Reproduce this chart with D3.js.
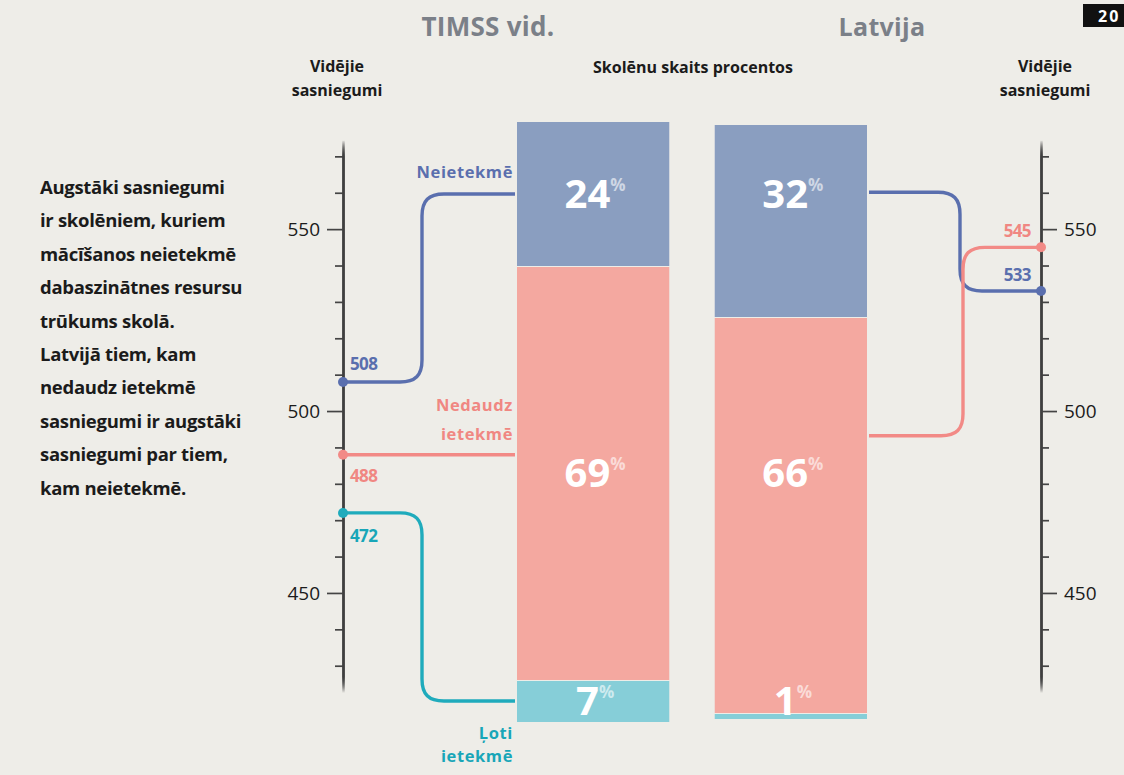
<!DOCTYPE html>
<html><head><meta charset="utf-8">
<script src="https://cdn.jsdelivr.net/npm/d3@7"></script>
<style>
html,body{margin:0;padding:0;background:#eeede8;}
svg{display:block;font-family:'Open Sans','Noto Sans',sans-serif;}
</style></head>
<body>
<svg id="chart" width="1124" height="775"></svg>
<script>
// ---------- data ----------
const categories = ["Neietekmē", "Nedaudz ietekmē", "Ļoti ietekmē"];
const categoryLabelLines = [["Neietekmē"], ["Nedaudz", "ietekmē"], ["Ļoti", "ietekmē"]];
const groups = ["TIMSS vid.", "Latvija"];
const timssShare = [24, 69, 7];
const latviaShare = [32, 66, 1];
const timssScore = [508, 488, 472];
const latviaScore = [533, 545];          // only first two categories shown for Latvija
const majorTicks = [450, 500, 550];
const minorTicks = [430, 440, 460, 470, 480, 490, 510, 520, 530, 540, 560, 570];
const noteLines = ["Augstāki sasniegumi", "ir skolēniem, kuriem", "mācīšanos neietekmē",
  "dabaszinātnes resursu", "trūkums skolā.", "Latvijā tiem, kam", "nedaudz ietekmē",
  "sasniegumi ir augstāki", "sasniegumi par tiem,", "kam neietekmē."];

// ---------- styles ----------
const barColors = ["#8a9ec0", "#f4a8a0", "#86ced8"];
const lineColors = ["#5a6fae", "#f28a86", "#1fabbc"];
const textColors = ["#5a6fae", "#f08782", "#18a6b8"];

const svg = d3.select("#chart");

// scales
const yScore = d3.scaleLinear().domain([422.5, 574.5]).range([693, 140]);
const xBand = d3.scaleBand().domain(groups).range([517, 867]).paddingInner(0.23).paddingOuter(0);
const hPct = d3.scaleLinear().domain([0, 100]).range([0, 600]);
const barTop = {"TIMSS vid.": 122, "Latvija": 125};
const leftAxisX = 343, rightAxisX = 1041;

// axis fade gradient
const defs = svg.append("defs");
const grad = defs.append("linearGradient").attr("id", "axfade").attr("gradientUnits", "userSpaceOnUse")
  .attr("x1", 0).attr("x2", 0).attr("y1", 140).attr("y2", 693);
[[0, 0], [0.03, 1], [0.97, 1], [1, 0]].forEach(([o, a]) =>
  grad.append("stop").attr("offset", o).attr("stop-color", "#3f3f3f").attr("stop-opacity", a));

// ---------- headers ----------
const hdr = svg.append("g").attr("font-weight", 700);
hdr.append("text").attr("x", 488).attr("y", 36).attr("text-anchor", "middle")
  .attr("font-size", 26).attr("fill", "#7b8088").attr("letter-spacing", 0.3).text("TIMSS vid.");
hdr.append("text").attr("x", 882).attr("y", 36).attr("text-anchor", "middle")
  .attr("font-size", 25).attr("fill", "#7b8088").attr("letter-spacing", 0.3).text("Latvija");
[[337], [1045]].forEach(([cx]) => {
  hdr.append("text").attr("x", cx).attr("y", 72).attr("text-anchor", "middle")
    .attr("font-size", 16).attr("fill", "#1b1b1b").text("Vidējie");
  hdr.append("text").attr("x", cx).attr("y", 96).attr("text-anchor", "middle")
    .attr("font-size", 16).attr("fill", "#1b1b1b").text("sasniegumi");
});
hdr.append("text").attr("x", 693).attr("y", 73).attr("text-anchor", "middle")
  .attr("font-size", 16).attr("fill", "#1b1b1b").text("Skolēnu skaits procentos");
// year box at the top-right edge
svg.append("rect").attr("x", 1083).attr("y", 4).attr("width", 45).attr("height", 23).attr("fill", "#111");
svg.append("text").attr("x", 1098).attr("y", 22).attr("font-size", 16).attr("font-weight", 700)
  .attr("fill", "#fff").attr("letter-spacing", 2).text("20");

// ---------- note ----------
const note = svg.append("g").attr("font-size", 18.5).attr("font-weight", 700).attr("fill", "#1b1b1b");
noteLines.forEach((t, i) => {
  note.append("text").attr("x", 40).attr("y", 194 + i * 33.4).attr("letter-spacing", -0.3).text(t);
});

// ---------- axes ----------
function drawAxis(x, dir) {
  const g = svg.append("g").attr("transform", `translate(${x},0)`);
  const mk = dir === "left" ? d3.axisLeft : d3.axisRight;
  g.append("g").call(mk(yScore).tickValues(minorTicks).tickSize(8).tickFormat("").tickSizeOuter(0));
  g.append("g").call(mk(yScore).tickValues(majorTicks).tickSize(16).tickPadding(7)
      .tickFormat(d3.format("d")).tickSizeOuter(0));
  g.selectAll(".domain").attr("stroke", "url(#axfade)").attr("stroke-width", 2.4);
  g.selectAll(".tick line").attr("stroke", "#444").attr("stroke-width", 1.7);
  g.selectAll(".tick text").attr("font-size", 19).attr("fill", "#1b1b1b")
    .attr("font-family", "'Open Sans',sans-serif");
}
drawAxis(leftAxisX, "left");
drawAxis(rightAxisX, "right");

// ---------- bars ----------
function segments(group, shares) {
  let acc = 0;
  return shares.map((v, i) => {
    const y0 = barTop[group] + hPct(acc);
    acc += v;
    const y1 = barTop[group] + hPct(acc);
    return {group, i, v, y0, y1, mid: (y0 + y1) / 2};
  });
}
const timssSeg = segments(groups[0], timssShare);
const latviaSeg = segments(groups[1], latviaShare);

const barsG = svg.append("g");
[timssSeg, latviaSeg].forEach(segs => {
  barsG.selectAll(null).data(segs).enter().append("rect")
    .attr("x", d => xBand(d.group))
    .attr("y", d => d.y0 + (d.i > 0 ? 1 : 0))
    .attr("width", xBand.bandwidth())
    .attr("height", d => Math.max(2.5, d.y1 - d.y0 - (d.i > 0 ? 1 : 0)))
    .attr("fill", d => barColors[d.i]);
});

// percent labels: positioned at TIMSS segment centres for both bars
[[groups[0], timssShare], [groups[1], latviaShare]].forEach(([g, shares]) => {
  shares.forEach((v, i) => {
    const t = barsG.append("text")
      .attr("x", xBand(g) + xBand.bandwidth() / 2 + 2)
      .attr("y", timssSeg[i].mid + 14)
      .attr("text-anchor", "middle").attr("font-weight", 700).attr("fill", "#fff");
    t.append("tspan").attr("font-size", 40).text(v);
    t.append("tspan").attr("font-size", 17).attr("dx", 0).attr("dy", -17).attr("fill-opacity", 0.6).text("%");
  });
});

// ---------- connectors ----------
function stepPath(x0, y0, x1, y1, xm, r) {
  if (Math.abs(y1 - y0) < 1) return `M${x0},${y0}H${x1}`;
  const s = y1 > y0 ? 1 : -1;
  const rr = Math.min(r, Math.abs(y1 - y0) / 2);
  return `M${x0},${y0}H${xm - rr}C${xm - rr * 0.3},${y0} ${xm},${y0 + s * rr * 0.3} ${xm},${y0 + s * rr}` +
         `V${y1 - s * rr}C${xm},${y1 - s * rr * 0.3} ${xm + rr * 0.3},${y1} ${xm + rr},${y1}H${x1}`;
}
const lines = svg.append("g").attr("fill", "none").attr("stroke-width", 3.4);
const barL = xBand(groups[0]), barR = xBand(groups[1]) + xBand.bandwidth();

// left side (TIMSS average)
timssScore.forEach((v, i) => {
  const ys = yScore(v);
  const seg = timssSeg[i];
  const anchor = (ys > seg.y0 && ys < seg.y1) ? ys : seg.mid;
  lines.append("path").attr("d", stepPath(leftAxisX, ys, barL - 2, anchor, 422, 22))
    .attr("stroke", lineColors[i]);
  svg.append("circle").attr("cx", leftAxisX).attr("cy", ys).attr("r", 5).attr("fill", lineColors[i]);
});
// right side (Latvija)
const rightAnchorFrac = [0.35, 0.30];
latviaScore.forEach((v, i) => {
  const ys = yScore(v);
  const seg = latviaSeg[i];
  const anchor = seg.y0 + (seg.y1 - seg.y0) * rightAnchorFrac[i];
  lines.append("path").attr("d", stepPath(barR + 2, anchor, rightAxisX, ys, 960 + i * 3, 22))
    .attr("stroke", lineColors[i]);
  svg.append("circle").attr("cx", rightAxisX).attr("cy", ys).attr("r", 5).attr("fill", lineColors[i]);
});

// ---------- score labels ----------
const lab = svg.append("g").attr("font-weight", 700).attr("font-size", 17);
const leftOffsets = [-12, 27, 29];
timssScore.forEach((v, i) => {
  lab.append("text").attr("x", 350).attr("y", yScore(v) + leftOffsets[i])
    .attr("fill", textColors[i]).attr("letter-spacing", -0.6).text(v);
});
latviaScore.forEach((v, i) => {
  lab.append("text").attr("x", 1031).attr("y", yScore(v) - 10).attr("text-anchor", "end")
    .attr("fill", textColors[i]).attr("letter-spacing", -0.6).text(v);
});

// ---------- category labels ----------
const catG = svg.append("g").attr("font-weight", 700).attr("font-size", 16.5).attr("text-anchor", "end");
const catAnchor = [timssSeg[0].mid, yScore(timssScore[1]), timssSeg[2].mid];
const catOffsets = [[-16], [-44, -15], [38, 61]];
categoryLabelLines.forEach((ls, i) => {
  ls.forEach((t, j) => {
    catG.append("text").attr("x", 513).attr("y", catAnchor[i] + catOffsets[i][j])
      .attr("fill", textColors[i]).attr("letter-spacing", 0.6).text(t);
  });
});
</script>
</body></html>
